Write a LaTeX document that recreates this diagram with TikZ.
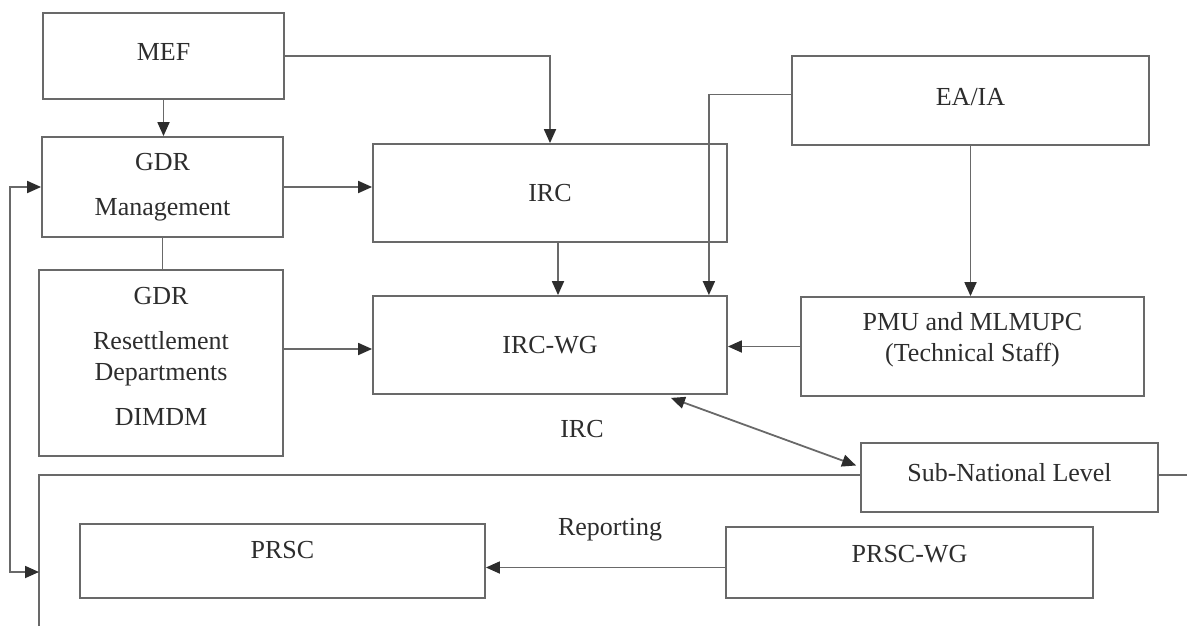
\documentclass[tikz,border=0pt]{standalone}
\usepackage{fontspec}
\setmainfont{Liberation Serif}
\usetikzlibrary{arrows.meta,calc,positioning}

\definecolor{linegray}{RGB}{105,105,105}
\definecolor{textgray}{RGB}{45,45,45}

\begin{document}
\begin{tikzpicture}[x=0.5pt,y=-0.5pt,>={Triangle[length=7pt,width=6pt,color=textgray]},line width=0.9pt,draw=linegray,
    box node/.style={rectangle,draw=linegray,inner sep=0pt,align=center,text=textgray,font=\fontsize{13}{15.5}\selectfont},
    link/.style={->,draw=linegray,fill=none},
    plain text/.style={text=textgray,font=\fontsize{13}{15.5}\selectfont}]

    \useasboundingbox (0,0) rectangle (1187,626);

            % upper left column
            \node[box node,minimum width=120.5pt,minimum height=43pt,text depth=4pt] (mef) at (163.5,56) {MEF};
            \node[box node,minimum width=120.5pt,minimum height=50pt] (gdrm) at (162.5,187) {GDR\\[7pt]Management};
            \node[box node,minimum width=122pt,minimum height=93pt,text depth=7pt] (gdrr) at (161,363) {GDR\\[7pt]Resettlement\\Departments\\[7pt]DIMDM};

            % middle column
            \node[box node,minimum width=177pt,minimum height=49pt] (irc) at (550,193) {IRC};
            \node[box node,minimum width=177pt,minimum height=49pt] (ircwg) at (550,345) {IRC-WG};

            % right column
            \node[box node,minimum width=178.5pt,minimum height=44.5pt,text depth=4pt] (eaia) at (970.5,100.5) {EA/IA};
            \node[box node,minimum width=171.5pt,minimum height=49.5pt,text depth=10pt] (pmu) at (972.5,346.5) {PMU and MLMUPC\\(Technical Staff)};
            \node[box node,minimum width=148.5pt,minimum height=34.5pt,text depth=5pt,fill=white] (subnat) at (1009.5,477.5) {Sub-National Level};

            % lower row
            \node[box node,minimum width=202.5pt,minimum height=37pt,text depth=11pt] (prsc) at (282.5,561) {PRSC};
            \node[box node,minimum width=183.5pt,minimum height=35.5pt,text depth=9pt] (prscwg) at (909.5,562.5) {PRSC-WG};

            \node[plain text] (irclabel) at (582,429) {IRC};
            \node[plain text] (reporting) at (610,530) {Reporting};

            \coordinate (frametop) at (39,475);
            \coordinate (framebot) at (39,626);
            \coordinate (frameend) at (1187,475);
            \coordinate (loopin) at (39,572);

            % open frame of the lower level
            \draw (framebot) -- (frametop) -- (frametop -| subnat.west);
            \draw (subnat.east |- frameend) -- (frameend);

            \draw[link] (mef.south) -- (mef.south |- gdrm.north);
            \draw[link] (mef) -| (irc);
            \draw[link] (gdrm.east) -- (gdrm.east -| irc.west);
            \draw (gdrm.south) -- (gdrm.south |- gdrr.north);
            \draw[link] ($(gdrr.east)+(0,-14)$) coordinate (resout) -- (resout -| ircwg.west);
            \draw[link] ([xshift=4pt]irc.south) -- ([xshift=4pt]ircwg.north);
            \draw[link] ([yshift=3pt]eaia.west) -| ($(ircwg.north east)+(-19,0)$);
            \draw[link] (eaia.south) -- (eaia.south |- pmu.north);
            \draw[link] (pmu.west) -- (pmu.west -| ircwg.east);
            \draw[<->] ($(ircwg.south east)+(-57,3)$) -- ($(subnat.west)+(-4,-12)$);
            \draw[<->] (gdrm.west) -- ++(-31,0) |- (loopin);
            \draw[link] ($(prscwg.west)+(0,5)$) coordinate (repout) -- (repout -| prsc.east);

\end{tikzpicture}
\end{document}
